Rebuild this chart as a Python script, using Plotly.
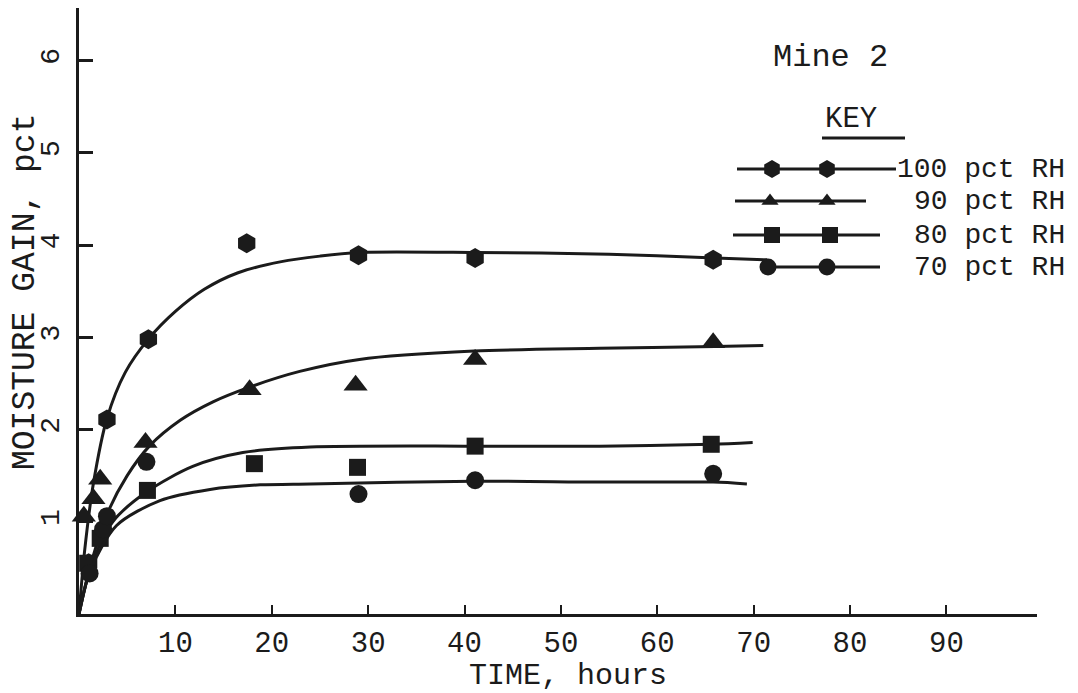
import plotly.graph_objects as go

# ---------------- data ----------------
series_names = ["100 pct RH", "90 pct RH", "80 pct RH", "70 pct RH"]
series_symbols = ["hexagon", "triangle-up", "square", "circle"]

# measured points (time, hours ; moisture gain, pct)
rh100_time = [1.0, 2.9, 7.2, 17.4, 29.0, 41.1, 65.8]
rh100_gain = [0.55, 2.11, 2.98, 4.02, 3.89, 3.86, 3.84]

rh90_time = [0.5, 1.5, 2.2, 6.9, 17.7, 28.7, 41.1, 65.8]
rh90_gain = [1.06, 1.25, 1.46, 1.86, 2.43, 2.48, 2.76, 2.94]

rh80_time = [0.9, 2.2, 7.1, 18.2, 28.9, 41.1, 65.6]
rh80_gain = [0.55, 0.82, 1.34, 1.63, 1.59, 1.82, 1.84]

rh70_time = [1.1, 2.5, 2.9, 7.0, 29.0, 41.1, 65.8]
rh70_gain = [0.44, 0.92, 1.06, 1.65, 1.30, 1.45, 1.52]

# hand-drawn fitted curves
fit100_time = [0.0, 0.6, 1.5, 2.9, 4.8, 7.2, 10.0, 13.0, 16.5, 21.0, 25.0, 29.0, 41.0, 55.0, 66.0, 71.4]
fit100_gain = [0.0, 0.70, 1.42, 2.12, 2.62, 2.98, 3.28, 3.52, 3.70, 3.82, 3.88, 3.92, 3.92, 3.90, 3.86, 3.84]

fit90_time = [0.0, 1.0, 2.9, 5.0, 7.3, 10.5, 13.9, 17.7, 22.9, 29.1, 41.0, 54.0, 66.0, 71.0]
fit90_gain = [0.0, 0.45, 1.08, 1.50, 1.82, 2.10, 2.30, 2.46, 2.63, 2.76, 2.85, 2.88, 2.90, 2.91]

fit80_time = [0.0, 1.2, 3.5, 7.1, 11.8, 17.0, 24.0, 41.0, 54.0, 65.6, 69.9]
fit80_gain = [0.0, 0.50, 1.00, 1.33, 1.60, 1.75, 1.81, 1.82, 1.82, 1.84, 1.86]

fit70_time = [0.0, 1.2, 3.9, 8.4, 13.6, 18.8, 24.0, 41.0, 54.0, 65.8, 69.3]
fit70_gain = [0.0, 0.48, 0.96, 1.23, 1.35, 1.40, 1.41, 1.44, 1.43, 1.43, 1.41]

x_tick_values = [10, 20, 30, 40, 50, 60, 70, 80, 90]
y_tick_values = [1, 2, 3, 4, 5, 6]

# ---------------- styling ----------------
INK = "#1b1b1b"
FONT = "Liberation Mono"
BODY = 8                                    # browser default body margin
W, H = 1078 - BODY, 693 - BODY
PL, PR, PT, PB = 79, 1037, 8, 614          # plot area in page pixels
XMAX = 99.4
YMAX = 6.57


def paper_x(px):
    return (px - PL) / (PR - PL)


def paper_y(py):
    return (PB - py) / (PB - PT)


fig = go.Figure()

points = [(rh100_time, rh100_gain), (rh90_time, rh90_gain),
          (rh80_time, rh80_gain), (rh70_time, rh70_gain)]
fits = [(fit100_time, fit100_gain), (fit90_time, fit90_gain),
        (fit80_time, fit80_gain), (fit70_time, fit70_gain)]
msize = {"hexagon": 20, "triangle-up": 21, "square": 17, "circle": 18}

for name, sym, (fx, fy), (px, py) in zip(series_names, series_symbols, fits, points):
    fig.add_trace(go.Scatter(x=fx, y=fy, mode="lines", name=name + " fit",
                             line=dict(color=INK, width=3, shape="spline", smoothing=0.8),
                             showlegend=False, hoverinfo="skip"))
    fig.add_trace(go.Scatter(x=px, y=py, mode="markers", name=name,
                             marker=dict(symbol=sym, size=msize[sym], color=INK,
                                         line=dict(width=0)),
                             showlegend=False, cliponaxis=False))

# ---------------- hand-drawn key (page-pixel overlay axes) ----------------
key_rows_y = [169, 201, 235, 267]
key_line_x = [(737, 896), (735, 866), (733, 880), (763, 880)]
key_marker_x = [(772, 827), (770, 827), (772, 830), (768, 827)]
key_msize = {"hexagon": 18, "triangle-up": 15, "square": 16, "circle": 17}
for name, sym, ry, (lx0, lx1), (mx0, mx1) in zip(series_names, series_symbols,
                                                 key_rows_y, key_line_x, key_marker_x):
    fig.add_trace(go.Scatter(x=[lx0, lx1], y=[ry, ry], mode="lines",
                             line=dict(color=INK, width=3), xaxis="x2", yaxis="y2",
                             showlegend=False, hoverinfo="skip"))
    fig.add_trace(go.Scatter(x=[mx0, mx1], y=[ry, ry], mode="markers",
                             marker=dict(symbol=sym, size=key_msize[sym], color=INK),
                             xaxis="x2", yaxis="y2", showlegend=False, hoverinfo="skip"))
    fig.add_annotation(x=paper_x(1067), y=paper_y(ry), xref="paper", yref="paper",
                       text=name, showarrow=False, xanchor="right", yanchor="middle",
                       font=dict(family=FONT, size=28, color=INK))

fig.add_annotation(x=paper_x(830), y=paper_y(57), xref="paper", yref="paper",
                   text="Mine 2", showarrow=False, xanchor="center", yanchor="middle",
                   font=dict(family=FONT, size=32, color=INK))
fig.add_annotation(x=paper_x(851), y=paper_y(119), xref="paper", yref="paper",
                   text="KEY", showarrow=False, xanchor="center", yanchor="middle",
                   font=dict(family=FONT, size=29, color=INK))
fig.add_shape(type="line", xref="paper", yref="paper",
              x0=paper_x(822), x1=paper_x(905), y0=paper_y(138), y1=paper_y(138),
              line=dict(color=INK, width=3))

# axis titles
fig.add_annotation(x=paper_x(568), y=paper_y(676), xref="paper", yref="paper",
                   text="TIME, hours", showarrow=False,
                   xanchor="center", yanchor="middle",
                   font=dict(family=FONT, size=30, color=INK))
fig.add_annotation(x=paper_x(25), y=paper_y(292), xref="paper", yref="paper",
                   text="MOISTURE GAIN, pct", showarrow=False, textangle=-90,
                   xanchor="center", yanchor="middle",
                   font=dict(family=FONT, size=33, color=INK))

fig.update_layout(
    width=W, height=H,
    margin=dict(l=PL - BODY, r=1078 - PR, t=PT - BODY, b=693 - PB, pad=0, autoexpand=False),
    paper_bgcolor="white", plot_bgcolor="white",
    font=dict(family=FONT, color=INK),
    showlegend=False,
    xaxis=dict(range=[0, XMAX], showgrid=False, zeroline=False,
               showline=True, linewidth=3, linecolor=INK,
               tickmode="array", tickvals=x_tick_values,
               ticks="inside", ticklen=9, tickwidth=2, tickcolor=INK,
               tickfont=dict(family=FONT, size=29, color=INK),
               ticklabelstandoff=0, automargin=False),
    yaxis=dict(range=[0, YMAX], showgrid=False, zeroline=False,
               showline=True, linewidth=3, linecolor=INK,
               tickmode="array", tickvals=y_tick_values,
               ticks="inside", ticklen=14, tickwidth=3, tickcolor=INK,
               tickangle=-90,
               tickfont=dict(family=FONT, size=28, color=INK),
               ticklabelstandoff=6, automargin=False),
    xaxis2=dict(range=[PL, PR], overlaying="x", visible=False, fixedrange=True),
    yaxis2=dict(range=[PB, PT], overlaying="y", visible=False, fixedrange=True),
)

fig.write_html("out.html")
